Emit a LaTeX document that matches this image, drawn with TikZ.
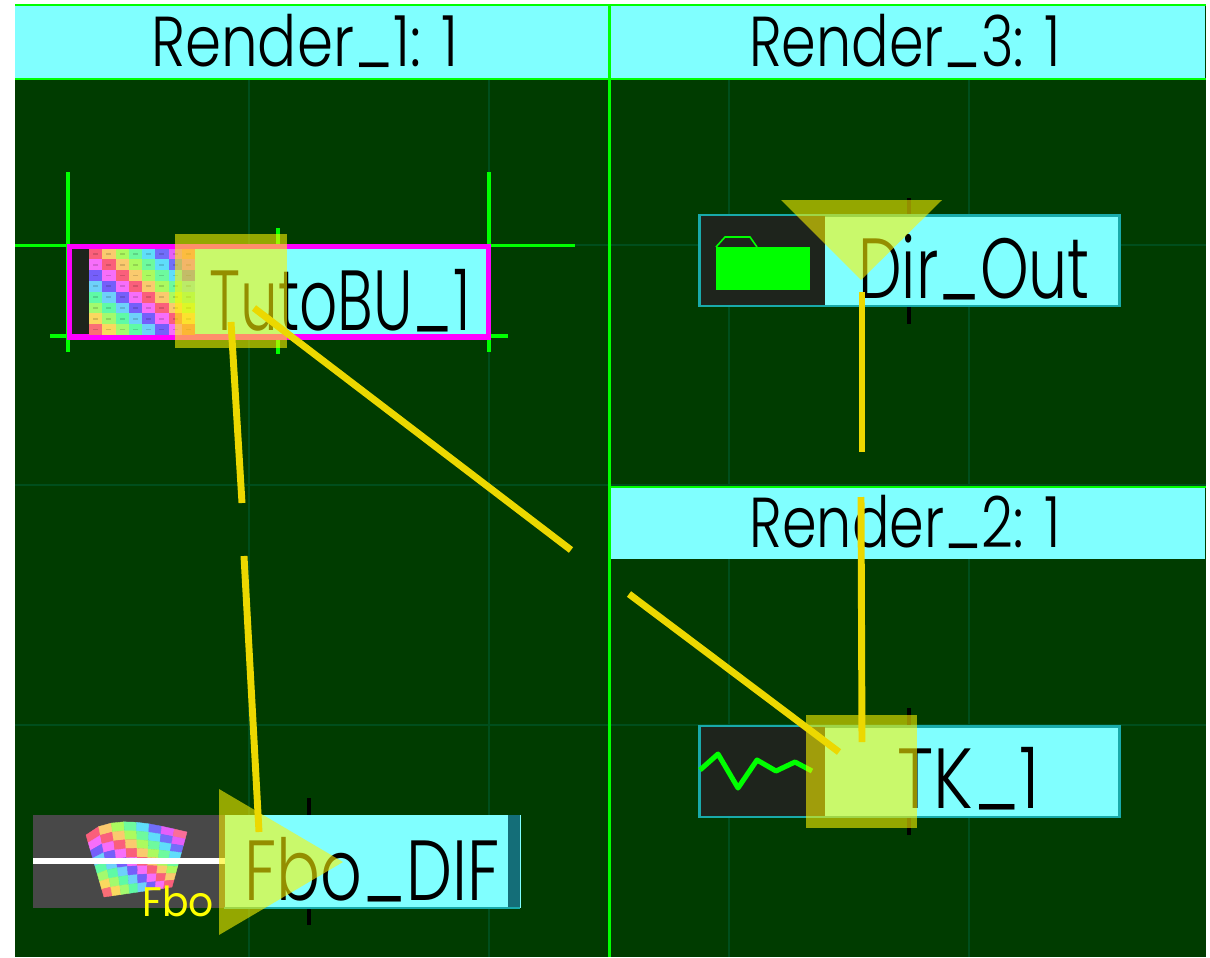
\documentclass[tikz,border=0pt]{standalone}
\usepackage{fontspec}
\usepackage{graphicx}
\setmainfont{Poppins Light}
\newfontfamily\tagfont{Poppins}
\usetikzlibrary{calc}
\definecolor{panelbg}{RGB}{0,60,0}
\definecolor{gridc}{RGB}{0,78,28}
\definecolor{barcyan}{RGB}{128,255,255}
\definecolor{edgegreen}{RGB}{0,255,0}
\definecolor{tealedge}{RGB}{25,170,170}
\definecolor{darkslot}{RGB}{30,36,28}
\definecolor{thumbgrey}{RGB}{72,72,72}
\definecolor{endstrip}{RGB}{20,110,120}
\definecolor{hilite}{RGB}{255,245,0}
\definecolor{linkc}{RGB}{236,216,0}
\definecolor{selmagenta}{RGB}{255,0,255}
\definecolor{tagyellow}{RGB}{255,255,0}
\tikzset{
  gridline/.style={draw=gridc,line width=1.5pt},
  frameline/.style={draw=edgegreen,line width=2.2pt},
  cropmark/.style={draw=edgegreen,line width=2.8pt},
  tickmark/.style={draw=black,line width=2.8pt},
  headbar/.style={fill=barcyan,draw=none,inner sep=0pt,minimum height=54pt,minimum width=446pt},
  opbar/.style={fill=barcyan,draw=tealedge,line width=2pt,inner sep=0pt,minimum height=68pt,minimum width=315pt},
  label/.style={inner sep=0pt,anchor=base west,text=black,font=\fontsize{64}{64}\selectfont},
  headlabel/.style={inner sep=0pt,anchor=base,text=black,font=\fontsize{53}{53}\selectfont},
  overlay/.style={fill=hilite,fill opacity=0.58,draw=none},
  linkline/.style={draw=linkc,line width=5.2pt}
}
% narrowed lettering for the labels
\newcommand{\narrowed}[2]{\scalebox{#1}[1]{#2}}
% underscore sitting on the baseline
\newcommand{\lowbar}{\raisebox{0.075em}{\_}}
% pattern colour for a cell: hue runs along the diagonals, saturation alternates
\newcommand{\setcellcolour}[2]{%
  \pgfmathsetmacro{\hueval}{mod(0.97+(#1-#2)*0.14+2,1)*6}%
  \pgfmathsetmacro{\satval}{ifthenelse(mod(#1+#2,2)==0,0.62,0.56)}%
  \pgfmathsetmacro{\kred}{mod(5+\hueval,6)}%
  \pgfmathsetmacro{\kgrn}{mod(3+\hueval,6)}%
  \pgfmathsetmacro{\kblu}{mod(1+\hueval,6)}%
  \pgfmathsetmacro{\chred}{0.98*(1-\satval*max(0,min(\kred,min(4-\kred,1))))}%
  \pgfmathsetmacro{\chgrn}{0.98*(1-\satval*max(0,min(\kgrn,min(4-\kgrn,1))))}%
  \pgfmathsetmacro{\chblu}{0.98*(1-\satval*max(0,min(\kblu,min(4-\kblu,1))))}%
  \definecolor{cellc}{rgb}{\chred,\chgrn,\chblu}%
}
% one square of the colour test pattern, in picture pixels
\newcommand{\patterncell}[6]{%
  \setcellcolour{#1}{#2}%
  \fill[cellc] (#3,#4) rectangle (#5,#6);%
  \fill[cellc!85!black] ({#3+0.32*(#5-#3)},{#4+0.42*(#6-#4)}) rectangle ({#5-0.32*(#5-#3)},{#6-0.42*(#6-#4)});%
}
% x and y of a lattice point of the warped thumbnail (corner interpolation)
\newcommand{\warpx}[2]{((1-#1/8)*(1-#2/8)*86+(#1/8)*(1-#2/8)*187+(#1/8)*(#2/8)*172+(1-#1/8)*(#2/8)*104)}
\newcommand{\warpy}[2]{((1-#1/8)*(1-#2/8)*835+(#1/8)*(1-#2/8)*832+(#1/8)*(#2/8)*887+(1-#1/8)*(#2/8)*897-12*sin(180*(#1/8)^0.7)*(1-#2/8))}
\begin{document}
\begin{tikzpicture}[x=0.75pt,y=-0.75pt]
\useasboundingbox (0,0) rectangle (1210,957);
% panel ground and faint grid
\fill[panelbg] (15,5) rectangle (1206,957);
\foreach \gx in {249,489,729,969} \draw[gridline] (\gx,79) -- (\gx,957);
\foreach \gy in {245,485,725} \draw[gridline] (15,\gy) -- (1206,\gy);

% header bars
\node[headbar] (head1) at (312.5,42) {};
\node[headbar] (head3) at (908,42) {};
\node[headbar] (head2) at (908,523) {};
\node[headlabel] (head1text) at (305,66) {\narrowed{0.82}{Render\lowbar 1: 1}};
\node[headlabel] (head3text) at (905,66) {\narrowed{0.787}{Render\lowbar 3: 1}};
\node[headlabel] (head2text) at (905,547) {\narrowed{0.787}{Render\lowbar 2: 1}};
\draw[frameline] (15,5) -- (1206,5);
\draw[frameline] (15,79) -- (1206,79);
\draw[frameline] (610,487) -- (1206,487);
\draw[frameline] (609.5,5) -- (609.5,957);

% crop marks around the selected operator
\draw[cropmark] (68,172) -- (68,352);
\draw[cropmark] (15,245.5) -- (68,245.5);
\draw[cropmark] (50,336) -- (68,336);
\draw[cropmark] (489,172) -- (489,352);
\draw[cropmark] (489,245.5) -- (575,245.5);
\draw[cropmark] (489,336) -- (508,336);
\draw[cropmark] (278,228) -- (278,354);

% TutoBU_1 operator
\node[fill=barcyan,draw=selmagenta,line width=4pt,inner sep=0pt,minimum width=314pt,minimum height=68pt] (tuto) at (279,291.5) {};
\fill[darkslot] (72,248.5) rectangle (89,334);
\foreach \col in {0,...,7} \foreach \row in {0,...,7} {
  \pgfmathsetmacro{\xa}{89+\col*13.25}\pgfmathsetmacro{\xb}{\xa+13.25}
  \pgfmathsetmacro{\ya}{248.5+\row*10.8}\pgfmathsetmacro{\yb}{\ya+10.8}
  \patterncell{\col}{\row}{\xa}{\ya}{\xb}{\yb}
}
\node[label] (tutotext) at (209,330) {\narrowed{0.70}{TutoBU\lowbar 1}};

% Dir_Out operator
\draw[tickmark] (909,198) -- (909,324);
\node[opbar] (dirout) at (909.5,260.5) {};
\fill[darkslot] (701,216) rectangle (825,305);
\fill[edgegreen] (716,247) rectangle (809.5,290);
\draw[edgegreen,line width=1.2pt] (716,247) -- (725,237) -- (750,237) -- (757,247);
\node[label] (dirtext) at (858,298) {\narrowed{0.724}{Dir\lowbar Out}};

% TK_1 operator
\draw[tickmark] (909,708) -- (909,835);
\node[opbar] (tk) at (909.5,771.5) {};
\fill[darkslot] (701,727) rectangle (825,816);
\draw[edgegreen,line width=3.8pt,line join=round] (700,770) -- (718,754) -- (738,788) -- (757,760) -- (776,771) -- (795,762) -- (812,771);
\node[label] (tktext) at (897,808) {\narrowed{0.816}{TK\lowbar 1}};

% Fbo_DIF operator
\draw[tickmark] (309,798) -- (309,925);
\node[fill=barcyan,draw=none,inner sep=0pt,minimum width=223pt,minimum height=70pt] (fbo) at (372,861.5) {};
\fill[thumbgrey] (33,815) rectangle (225,908);
\foreach \col in {0,...,7} \foreach \row in {0,...,7} {
  \pgfmathtruncatemacro{\colnext}{\col+1}
  \pgfmathtruncatemacro{\rownext}{\row+1}
  \setcellcolour{\col}{\row}
  \fill[cellc,draw=cellc,line width=0.3pt]
    ({\warpx{\col}{\row}},{\warpy{\col}{\row}}) --
    ({\warpx{\colnext}{\row}},{\warpy{\colnext}{\row}}) --
    ({\warpx{\colnext}{\rownext}},{\warpy{\colnext}{\rownext}}) --
    ({\warpx{\col}{\rownext}},{\warpy{\col}{\rownext}}) -- cycle;
}
\fill[white] (33,858) rectangle (225,864);
\fill[endstrip] (508,815) rectangle (520,908);
\draw[tealedge,line width=1.4pt] (224,908) -- (520,908);
\node[label] (fbotext) at (244,900) {\narrowed{0.764}{Fbo\lowbar DIF}};
\node[inner sep=0pt,anchor=base west,text=tagyellow,font=\tagfont\fontsize{31}{31}\selectfont] (fbotag) at (142,916) {\narrowed{0.95}{Fbo}};

% translucent selection shapes on top of the operators
\fill[overlay] (175,234) rectangle (287,348);
\fill[overlay] (781,200) -- (942,200) -- (861,280) -- cycle;
\fill[overlay] (806,715) rectangle (917,828);
\fill[overlay] (219,789) -- (219,935) -- (343,862) -- cycle;

% connector ends and the breaks where the links pass behind other panels
\coordinate (tutoS) at (231,322);
\coordinate (tutoT) at (254,308);
\coordinate (fboIn) at (259,832);
\coordinate (tkA) at (839,752);
\coordinate (tkB) at (862,742);
\coordinate (dirS) at (862,292);
\coordinate (gapA1) at (242,503);
\coordinate (gapA2) at (244,556);
\coordinate (gapB1) at (571,550);
\coordinate (gapB2) at (629,594);
\coordinate (gapC1) at (862,452);
\coordinate (gapC2) at (861,497);
\draw[linkline] (tutoS) -- (gapA1);
\draw[linkline] (gapA2) -- (fboIn);
\draw[linkline] (tutoT) -- (gapB1);
\draw[linkline] (gapB2) -- (tkA);
\draw[linkline] (dirS) -- (gapC1);
\draw[linkline] (gapC2) -- (tkB);
\end{tikzpicture}
\end{document}
